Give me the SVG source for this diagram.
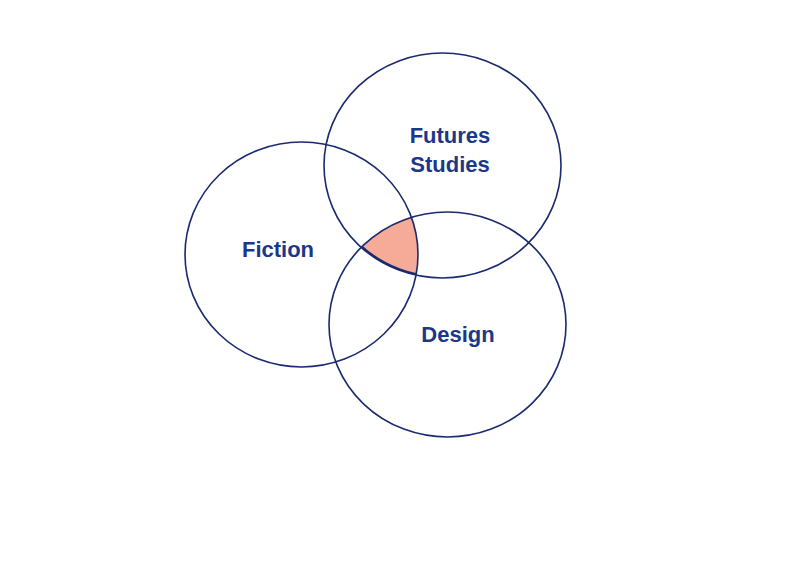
<svg xmlns="http://www.w3.org/2000/svg" width="800" height="566" viewBox="0 0 800 566">
<style>
.c{fill:none;stroke:#1a2a6e;stroke-width:1.6}
.t{font-family:"Liberation Sans",Arial,sans-serif;font-weight:bold;font-size:22px;fill:#1c3789;text-anchor:middle}
</style>
<defs>
<clipPath id="cpF"><ellipse cx="442.5" cy="165.5" rx="118.5" ry="112.5"/></clipPath>
<clipPath id="cpD"><ellipse cx="447.5" cy="324.5" rx="118.5" ry="112.5"/></clipPath>
<clipPath id="cpI"><ellipse cx="301.5" cy="254.5" rx="116.5" ry="112.5"/></clipPath>
</defs>
<rect width="800" height="566" fill="#fff"/>
<g id="overlap" clip-path="url(#cpF)">
<g clip-path="url(#cpD)">
<g clip-path="url(#cpI)">
<ellipse cx="301.5" cy="254.5" rx="116.5" ry="112.5" fill="#f5ab97"/>
<ellipse cx="442.5" cy="165.5" rx="118.5" ry="112.5" fill="none" stroke="#1a2a6e" stroke-width="4"/>
</g>
</g>
</g>
<g id="fiction">
<ellipse class="c" cx="301.5" cy="254.5" rx="116.5" ry="112.5"/>
<text class="t" x="278" y="256.5">Fiction</text>
</g>
<g id="futures">
<ellipse class="c" cx="442.5" cy="165.5" rx="118.5" ry="112.5"/>
<text class="t" x="450" y="143">Futures</text>
<text class="t" x="450" y="171.5">Studies</text>
</g>
<g id="design">
<ellipse class="c" cx="447.5" cy="324.5" rx="118.5" ry="112.5"/>
<text class="t" x="458" y="341.5">Design</text>
</g>
<g id="connectors"/>
</svg>
